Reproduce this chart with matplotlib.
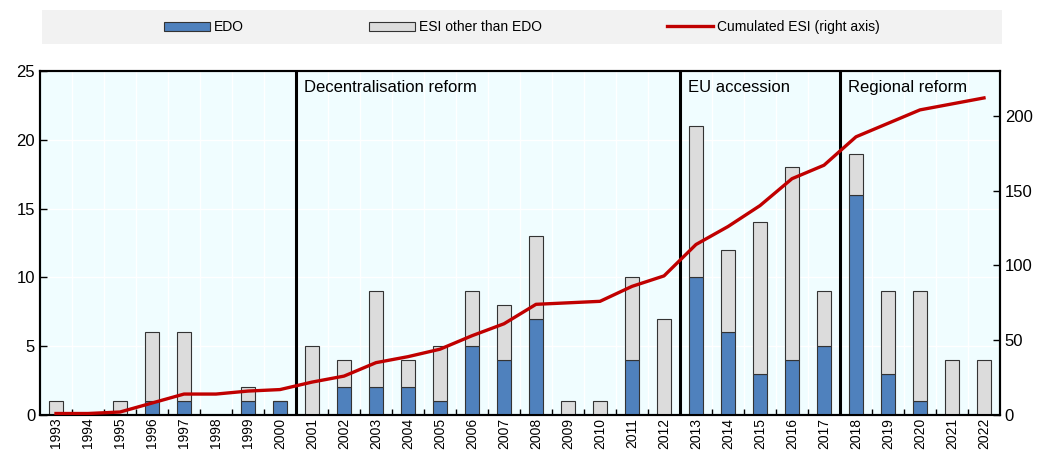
import matplotlib.pyplot as plt
from matplotlib.patches import Rectangle
import numpy as np

plt.rcParams['font.family'] = ['Liberation Sans', 'DejaVu Sans']

years = list(range(1993, 2023))
edo = [0, 0, 0, 1, 1, 0, 1, 1, 0, 2, 2, 2, 1, 5, 4, 7, 0, 0, 4, 0,
       10, 6, 3, 4, 5, 16, 3, 1, 0, 0]
esi_total = [1, 0, 1, 6, 6, 0, 2, 1, 5, 4, 9, 4, 5, 9, 8, 13, 1, 1, 10, 7,
             21, 12, 14, 18, 9, 19, 9, 9, 4, 4]
esi_other = [t - e for t, e in zip(esi_total, edo)]
cumulated = np.cumsum(esi_total)

periods = [("Decentralisation reform", 2001), ("EU accession", 2013), ("Regional reform", 2018)]

blue = '#4f81bd'
grey = '#dcdcdc'
red = '#c00000'

fig = plt.figure(figsize=(10.44, 4.5), dpi=100)
ax = fig.add_axes([40 / 1044, 35 / 450, 960 / 1044, 344 / 450])
ax.set_facecolor('#f0fdff')

x = np.arange(len(years))
b1 = ax.bar(x, edo, width=0.42, color=blue, edgecolor='#333333', linewidth=0.8, zorder=3)
b2 = ax.bar(x, esi_other, bottom=edo, width=0.42, color=grey, edgecolor='#333333',
            linewidth=0.8, zorder=3)

ax.set_xlim(-0.5, len(years) - 0.5)
ax.set_ylim(0, 25)
ax.set_yticks(range(0, 26, 5))
ax.set_xticks(x)
ax.set_xticklabels([str(y) for y in years], rotation=90)
ax.set_xticks(np.arange(-0.5, len(years), 1.0)[1:-1], minor=True)
ax.tick_params(axis='x', which='major', length=0, labelsize=10, pad=2)
ax.tick_params(axis='x', which='minor', direction='in', length=4, width=1)
ax.tick_params(axis='y', direction='in', length=5, width=1, labelsize=12)
ax.grid(True, axis='y', color='white', linewidth=1, zorder=0)
ax.grid(True, axis='x', which='minor', color='white', linewidth=1, zorder=0)
ax.set_axisbelow(True)
for s in ax.spines.values():
    s.set_linewidth(1.5)
    s.set_color('black')

# period separators and labels
for label, start in periods:
    pos = years.index(start) - 0.5
    ax.axvline(pos, color='black', linewidth=2.2, zorder=4)
    ax.text(pos + 0.25, 23.8, label, fontsize=12, va='center', ha='left', zorder=5)

ax2 = ax.twinx()
ax2.set_ylim(0, 230)
ax2.set_yticks(range(0, 201, 50))
ax2.tick_params(axis='y', direction='in', length=5, width=1, labelsize=12)
l1, = ax2.plot(x, cumulated, color=red, linewidth=2.4, zorder=6)
for s in ax2.spines.values():
    s.set_linewidth(1.5)

# legend strip
fig.patches.append(Rectangle((42 / 1044, 406 / 450), 960 / 1044, 34 / 450,
                             transform=fig.transFigure, facecolor='#f2f2f2',
                             edgecolor='none', zorder=0))
fig.legend([b1, b2, l1], ['EDO', 'ESI other than EDO', 'Cumulated ESI (right axis)'],
           loc='center', bbox_to_anchor=(0.5, 423 / 450), ncol=3, frameon=False,
           fontsize=10, handlelength=3.3, handleheight=0.6, handletextpad=0.3,
           columnspacing=9.0)

fig.savefig('out.png', dpi=100)
